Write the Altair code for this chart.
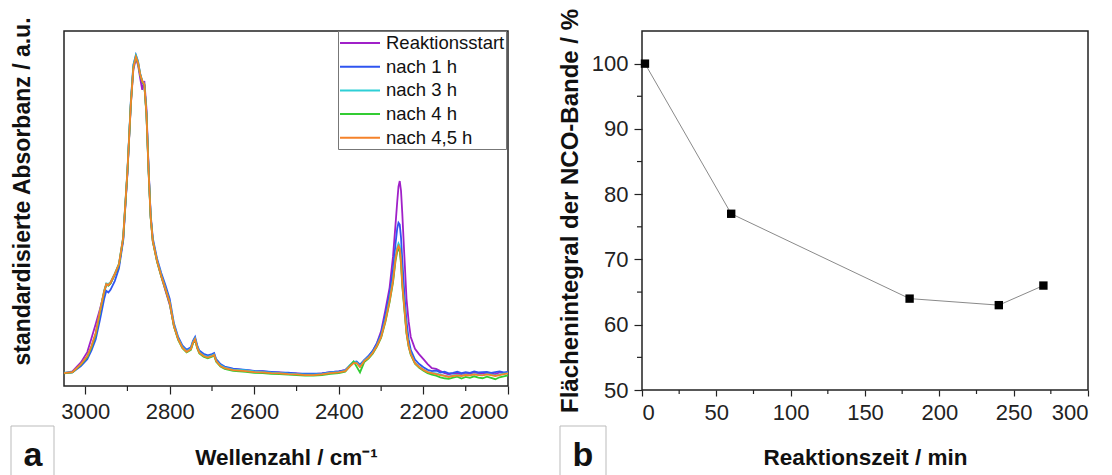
import altair as alt
import pandas as pd

FONT = "Liberation Sans"

# ---------------- panel a : IR spectra ----------------
WAVENUMBER = [
    3050, 3030, 3010, 2995, 2985, 2975, 2965, 2955, 2950, 2945,
    2940, 2930, 2920, 2910, 2900, 2892, 2886, 2880, 2875, 2870,
    2865, 2860, 2855, 2850, 2845, 2840, 2830, 2820, 2810, 2800,
    2795, 2790, 2780, 2770, 2760, 2750, 2745, 2740, 2735, 2730,
    2720, 2710, 2700, 2695, 2690, 2680, 2670, 2650, 2620, 2600,
    2580, 2560, 2540, 2520, 2500, 2480, 2460, 2440, 2420, 2400,
    2385, 2375, 2365, 2358, 2350, 2340, 2330, 2320, 2310, 2300,
    2290, 2280, 2272, 2266, 2262, 2259, 2256, 2253, 2250, 2245,
    2240, 2235, 2230, 2220, 2210, 2200, 2190, 2180, 2170, 2160,
    2150, 2140, 2130, 2120, 2110, 2100, 2090, 2080, 2070, 2060,
    2050, 2040, 2030, 2020, 2010, 2000,
]

REAKTIONSSTART = [
    4.0, 4.5, 7.3, 10.5, 14.8, 19.2, 23.8, 29.0, 31.5, 31.2,
    31.8, 34.5, 37.5, 45.5, 66.0, 87.0, 98.0, 101.5, 99.5, 95.5,
    91.8, 94.5, 86.0, 67.5, 52.5, 45.0, 38.8, 34.0, 29.5, 25.2,
    22.0, 18.6, 14.6, 12.0, 10.8, 11.6, 13.6, 14.7, 12.1, 10.5,
    9.5, 9.0, 9.5, 9.8, 7.9, 6.5, 5.8, 5.2, 4.9, 4.6,
    4.5, 4.3, 4.2, 4.0, 3.9, 3.7, 3.7, 3.9, 4.3, 4.5,
    4.9, 6.2, 7.5, 7.3, 6.3, 8.0, 9.2, 10.8, 13.3, 17.0,
    23.5, 30.5, 40.0, 50.0, 57.0, 61.8, 63.5, 60.5, 53.5, 40.0,
    27.0, 20.0, 15.2, 11.5, 9.8, 8.3, 6.8, 5.5, 5.3, 4.6,
    4.0, 3.6, 3.9, 3.8, 3.7, 4.0, 3.8, 4.2, 3.9, 3.9,
    4.1, 3.8, 3.7, 4.2, 4.0, 4.1,
]

NACH_1H = [
    4.0, 4.2, 6.2, 8.3, 11.0, 14.5, 20.5, 27.0, 29.5, 29.0,
    29.8, 32.5, 36.5, 45.0, 66.0, 88.0, 99.5, 102.6, 100.6, 96.8,
    94.3, 93.2, 84.5, 67.5, 53.0, 45.8, 39.5, 35.0, 31.2, 27.0,
    23.2, 19.4, 15.2, 12.6, 11.2, 12.0, 14.0, 15.2, 12.6, 11.0,
    10.0, 9.5, 9.9, 10.2, 8.3, 6.8, 6.0, 5.4, 5.0, 4.7,
    4.6, 4.4, 4.2, 4.1, 3.9, 3.8, 3.8, 3.9, 4.3, 4.5,
    4.9, 6.0, 7.4, 7.6, 6.6, 8.0, 9.3, 10.9, 13.2, 16.2,
    22.0, 28.5, 36.0, 44.0, 48.8, 50.6, 50.0, 46.0, 39.0, 28.5,
    20.0, 14.5, 11.2, 8.2, 6.8, 5.8, 5.0, 4.6, 4.8, 4.2,
    4.4, 3.9, 4.1, 4.4, 4.0, 4.3, 4.1, 4.5, 4.2, 4.3,
    4.4, 4.1, 4.3, 4.5, 4.2, 4.4,
]

NACH_3H = [
    4.1, 4.3, 6.7, 9.1, 12.2, 16.2, 23.0, 29.6, 31.8, 31.6,
    32.2, 34.8, 37.9, 46.2, 67.0, 87.8, 99.2, 102.4, 100.5, 96.8,
    94.6, 93.6, 84.4, 66.8, 52.4, 45.1, 38.9, 34.3, 30.2, 26.0,
    22.4, 18.8, 14.7, 12.1, 10.8, 11.6, 13.6, 14.7, 12.1, 10.5,
    9.5, 9.0, 9.5, 9.8, 7.9, 6.4, 5.7, 5.1, 4.8, 4.5,
    4.3, 4.1, 4.0, 3.8, 3.7, 3.5, 3.5, 3.7, 4.1, 4.3,
    4.7, 6.3, 7.6, 7.3, 6.0, 7.9, 8.9, 10.4, 12.6, 15.5,
    20.5, 26.8, 33.0, 40.0, 43.0, 44.2, 43.4, 39.2, 32.2, 24.5,
    16.8, 12.6, 10.0, 7.2, 6.0, 5.1, 4.4, 4.1, 3.9, 3.5,
    3.2, 3.0, 3.3, 3.4, 3.2, 3.6, 3.4, 3.7, 3.5, 3.4,
    3.7, 3.5, 3.3, 3.5, 3.8, 4.0,
]

NACH_4H = [
    3.9, 4.2, 6.6, 9.0, 12.0, 16.0, 22.8, 29.2, 31.4, 31.1,
    31.8, 34.5, 37.6, 45.8, 66.4, 87.2, 98.6, 102.0, 100.0, 96.4,
    94.3, 93.3, 84.0, 66.4, 52.0, 44.7, 38.5, 33.9, 29.8, 25.6,
    22.0, 18.4, 14.3, 11.7, 10.4, 11.2, 13.2, 14.3, 11.7, 10.1,
    9.1, 8.6, 9.1, 9.4, 7.5, 6.0, 5.3, 4.7, 4.4, 4.1,
    4.0, 3.8, 3.7, 3.5, 3.4, 3.2, 3.2, 3.4, 3.8, 4.0,
    4.4, 6.0, 7.6, 6.0, 4.2, 7.4, 8.5, 10.0, 12.2, 15.0,
    19.8, 26.0, 32.0, 38.8, 41.5, 42.5, 41.8, 37.8, 31.0, 23.6,
    16.2, 12.2, 9.7, 6.9, 5.6, 4.7, 4.0, 3.5, 3.2, 2.7,
    2.4, 2.2, 2.6, 2.9, 2.3, 2.8, 2.5, 3.0, 2.6, 2.4,
    2.9, 2.5, 2.1, 2.7, 3.0, 3.3,
]

NACH_4_5H = [
    4.0, 4.3, 6.8, 9.3, 12.4, 16.5, 23.2, 29.4, 31.6, 31.3,
    32.0, 34.7, 37.8, 46.0, 66.6, 87.3, 98.6, 102.0, 100.2, 96.6,
    94.5, 93.5, 84.2, 66.6, 52.2, 44.9, 38.7, 34.1, 30.0, 25.8,
    22.2, 18.6, 14.5, 11.9, 10.6, 11.4, 13.4, 14.5, 11.9, 10.3,
    9.3, 8.8, 9.3, 9.6, 7.7, 6.2, 5.5, 4.9, 4.6, 4.3,
    4.2, 4.0, 3.9, 3.7, 3.6, 3.4, 3.4, 3.6, 4.0, 4.2,
    4.6, 5.9, 7.1, 7.1, 5.9, 7.7, 8.7, 10.2, 12.4, 15.2,
    20.1, 26.3, 32.5, 39.4, 42.3, 43.4, 42.6, 38.5, 31.6, 24.0,
    16.5, 12.4, 9.9, 7.1, 5.9, 5.0, 4.3, 4.0, 3.7, 3.4,
    3.1, 2.8, 3.1, 3.3, 3.1, 3.4, 3.3, 3.6, 3.4, 3.3,
    3.6, 3.4, 3.1, 3.4, 3.7, 3.9,
]

SERIES = ["Reaktionsstart", "nach 1 h", "nach 3 h", "nach 4 h", "nach 4,5 h"]
SPECTRA = [REAKTIONSSTART, NACH_1H, NACH_3H, NACH_4H, NACH_4_5H]
COLORS = ["#A020C8", "#2F55F0", "#2ECFD6", "#33CC33", "#F5822A"]

X_MAJOR_A = [3000, 2800, 2600, 2400, 2200, 2000]
X_MINOR_A = [2900, 2700, 2500, 2300, 2100]

# ---------------- panel b : NCO band area ----------------
ZEIT = [2, 60, 180, 240, 270]
FLAECHE = [100, 77, 64, 63, 66]
X_MAJOR_B = [0, 50, 100, 150, 200, 250, 300]
X_MINOR_B = [25, 75, 125, 175, 225, 275]
Y_MAJOR_B = [50, 60, 70, 80, 90, 100]
Y_MINOR_B = [55, 65, 75, 85, 95]

rows = []
for name, vals in zip(SERIES, SPECTRA):
    for w, a in zip(WAVENUMBER, vals):
        rows.append({"Wellenzahl": w, "Absorbanz": a, "Messung": name})
spec_df = pd.DataFrame(rows)
DUMMY = pd.DataFrame({"k": [0]})

WA, HA = 444, 355
WB, HB = 446, 359
TICK = "#222222"
BOX = "#BBBBBB"


def vrule(x, y1, y2, color=BOX, sw=1.0):
    return alt.Chart(DUMMY).mark_rule(color=color, strokeWidth=sw).encode(
        x=alt.value(x), y=alt.value(y1), y2=alt.value(y2))


def hrule(x1, x2, y, color=BOX, sw=1.0):
    return alt.Chart(DUMMY).mark_rule(color=color, strokeWidth=sw).encode(
        x=alt.value(x1), x2=alt.value(x2), y=alt.value(y))


def letter(txt, x, y):
    return alt.Chart(DUMMY).mark_text(
        text=txt, font=FONT, fontSize=34, fontWeight="bold",
        align="center", baseline="alphabetic", color="#111111"
    ).encode(x=alt.value(x), y=alt.value(y))


# ----- left panel -----
x_a = alt.Scale(domain=[2000, 3050], reverse=True, nice=False, zero=False)
y_a = alt.Scale(domain=[0, 110], nice=False, zero=False)

ax_xa = alt.Axis(values=X_MAJOR_A, format="d", tickSize=8, labelPadding=7,
                 domain=False, title="Wellenzahl / cm⁻¹", titleFontSize=22.5,
                 titleY=60)

spectra = alt.Chart(spec_df).mark_line(strokeWidth=1.8).encode(
    x=alt.X("Wellenzahl:Q", scale=x_a, axis=ax_xa),
    y=alt.Y("Absorbanz:Q", scale=y_a,
            axis=alt.Axis(labels=False, ticks=False, domain=False,
                          title="standardisierte Absorbanz / a.u.",
                          titleFontSize=23, titleX=-30, titleY=160)),
    color=alt.Color("Messung:N", scale=alt.Scale(domain=SERIES, range=COLORS),
                    legend=alt.Legend(title=None, orient="none", legendX=274, legendY=0,
                                      symbolType="M-1,0H3", symbolSize=400,
                                      symbolStrokeWidth=2, labelFont=FONT,
                                      labelFontSize=18.5, labelColor="#111111",
                                      labelOffset=25, rowPadding=2.7, padding=1,
                                      strokeColor="#777777", fillColor="white",
                                      cornerRadius=0)),
)

minor_a = alt.Chart(pd.DataFrame({"t": X_MINOR_A})).mark_rule(
    color=TICK, strokeWidth=1.2).encode(
    x=alt.X("t:Q", scale=x_a, axis=ax_xa), y=alt.value(HA), y2=alt.value(HA + 5))

anchor = alt.Chart(DUMMY).mark_rule(color="white", strokeOpacity=0).encode(
    x=alt.value(-63), y=alt.value(-30), y2=alt.value(-29))

left = alt.layer(
    spectra, minor_a,
    vrule(-53, 395, 445), hrule(-53, -10, 395), vrule(-10, 395, 445),
    letter("a", -31, 435), anchor,
).properties(width=WA, height=HA)

# ----- right panel -----
df_b = pd.DataFrame({"Zeit": ZEIT, "Flaeche": FLAECHE})
x_b = alt.Scale(domain=[0, 300], nice=False, zero=False)
y_b = alt.Scale(domain=[50, 105], nice=False, zero=False)

ax_xb = alt.Axis(values=X_MAJOR_B, format="d", tickSize=6, labelPadding=6,
                 domain=False, title="Reaktionszeit / min", titleFontSize=22.5,
                 titleY=56)
ax_yb = alt.Axis(values=Y_MAJOR_B, format="d", tickSize=8, labelPadding=6,
                 domain=False, title="Flächenintegral der NCO-Bande / %",
                 titleFontSize=24, titleX=-60)

base_b = alt.Chart(df_b).encode(
    x=alt.X("Zeit:Q", scale=x_b, axis=ax_xb),
    y=alt.Y("Flaeche:Q", scale=y_b, axis=ax_yb),
)
line_b = base_b.mark_line(color="#8A8A8A", strokeWidth=1)
pts_b = base_b.mark_point(shape="square", filled=True, size=70, color="black", opacity=1)

minor_bx = alt.Chart(pd.DataFrame({"t": X_MINOR_B})).mark_rule(
    color=TICK, strokeWidth=1.2).encode(
    x=alt.X("t:Q", scale=x_b, axis=ax_xb), y=alt.value(HB), y2=alt.value(HB + 4))
minor_by = alt.Chart(pd.DataFrame({"t": Y_MINOR_B})).mark_rule(
    color=TICK, strokeWidth=1.2).encode(
    y=alt.Y("t:Q", scale=y_b, axis=ax_yb), x=alt.value(-5), x2=alt.value(0))

right = alt.layer(
    line_b, pts_b, minor_bx, minor_by,
    vrule(-82, 395, 445), hrule(-82, -36, 395), vrule(-36, 395, 445),
    letter("b", -59, 435),
).properties(width=WB, height=HB)

chart = alt.hconcat(left, right, spacing=134, bounds="flush").resolve_legend(
    color="independent"
).resolve_scale(
    color="independent"
).properties(
    padding={"left": 0, "top": 0, "right": 0, "bottom": 0}
).configure_view(
    stroke="#222222", strokeWidth=1.5
).configure_axis(
    labelFont=FONT, titleFont=FONT, labelFontSize=22, titleFontSize=22,
    titleFontWeight="bold", labelColor="#222222", titleColor="#111111",
    tickColor=TICK, tickWidth=1.2, grid=False
)

chart.save("out.html", embed_options={"renderer": "svg", "actions": False})
